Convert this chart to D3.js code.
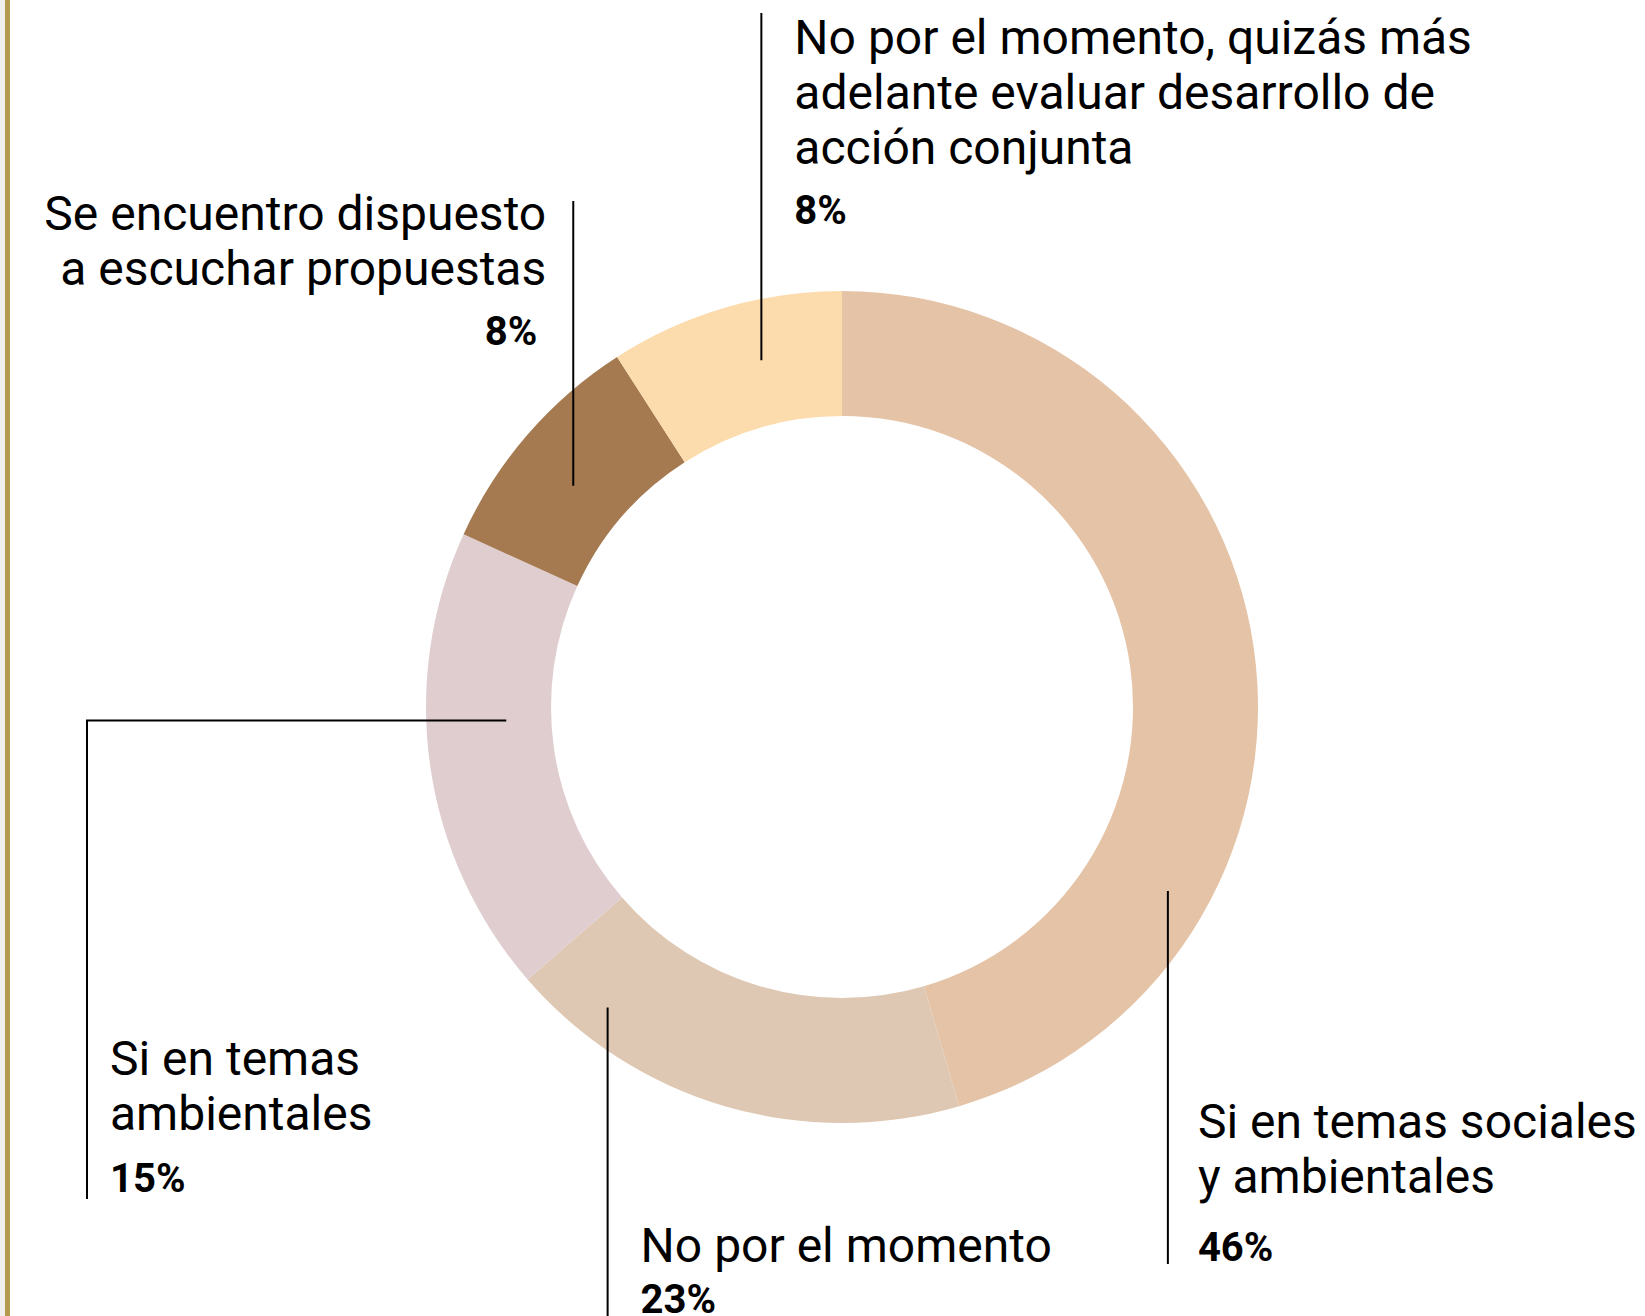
<!DOCTYPE html>
<html>
<head>
    <meta charset="utf-8">
    <title>Donut Chart</title>
    <style type="text/css">
    body { margin: 0; background: #fff; }
    text { font-family: Roboto, "Noto Sans", sans-serif; fill: #000; }
    </style>
</head>
<body>

    <script src="https://d3js.org/d3.v7.min.js"></script>
    <script>
      // data (clockwise from 12 o'clock)
      var categories = [
          "Si en temas sociales y ambientales",
          "No por el momento",
          "Si en temas ambientales",
          "Se encuentro dispuesto a escuchar propuestas",
          "No por el momento, quizás más adelante evaluar desarrollo de acción conjunta"
      ];
      var labelLines = [
          ["Si en temas sociales", "y ambientales"],
          ["No por el momento"],
          ["Si en temas", "ambientales"],
          ["Se encuentro dispuesto", "a escuchar propuestas"],
          ["No por el momento, quizás más", "adelante evaluar desarrollo de", "acción conjunta"]
      ];
      var sliceShares   = [45.5, 18.2, 18.2, 9.1, 9.1];
      var percentLabels = ["46%", "23%", "15%", "8%", "8%"];
      var palette = ["#E5C3A6", "#DFC8B3", "#E0CDCF", "#A57A51", "#FCDBAC"];

      var width = 1645, height = 1316;
      var cx = 842, cy = 707, outerR = 416, innerR = 291;

      // where each leader touches its slice (t = along the slice, f = across the ring)
      // and where the label text sits
      var layout = [
          {t: 0.730, f: 0.666, endY: 1264, textDx: 30,  anchor: "start", lines: [1138, 1193], pctY: 1261},
          {t: 0.83,  f: 0.72,  endY: 1320, textDx: 33,  anchor: "start", lines: [1262], pctY: 1313},
          {t: 0.59,  f: 0.36,  elbowX: 87, endY: 1199, textDx: 23, anchor: "start", lines: [1075, 1130], pctY: 1192},
          {t: 0.456, f: 0.457, endY: 201,  textDx: -27, pctDx: -36, anchor: "end", lines: [230, 285], pctY: 345},
          {t: 0.60,  f: 0.52,  endY: 13,   textDx: 33,  anchor: "start", lines: [54, 109, 164], pctY: 224}
      ];

      var svg = d3.select("body")
          .append("svg")
          .attr("width", width)
          .attr("height", height);

      // left border strip
      svg.append("rect").attr("x", 0).attr("y", 0).attr("width", 5).attr("height", height).attr("fill", "#F1F0EC");
      svg.append("rect").attr("x", 5).attr("y", 0).attr("width", 5).attr("height", height).attr("fill", "#B49A4F");

      var pie = d3.pie().sort(null).value(function(d){ return d; });
      var arcs = pie(sliceShares);

      var arc = d3.arc().innerRadius(innerR).outerRadius(outerR);

      var chart = svg.append("g")
          .attr("transform", "translate(" + cx + "," + cy + ")");

      chart.selectAll(".slice")
          .data(arcs)
          .enter()
          .append("path")
          .attr("class", "slice")
          .attr("d", arc)
          .attr("fill", function(d, i){ return palette[i]; });

      // leader lines + labels
      arcs.forEach(function(d, i){
          var L = layout[i];
          var a = d.startAngle + L.t * (d.endAngle - d.startAngle);
          var r = innerR + L.f * (outerR - innerR);
          var p = d3.pointRadial(a, r);
          var x0 = cx + p[0], y0 = cy + p[1];
          var pts;
          if (L.elbowX !== undefined) {
              pts = [[x0, y0], [L.elbowX, y0], [L.elbowX, L.endY]];
          } else {
              pts = [[x0, y0], [x0, L.endY]];
          }
          svg.append("path")
              .attr("d", d3.line()(pts))
              .attr("fill", "none")
              .attr("stroke", "#000")
              .attr("stroke-width", 2);

          var lineX = L.elbowX !== undefined ? L.elbowX : x0;
          var g = svg.append("g");
          labelLines[i].forEach(function(txt, k){
              g.append("text")
                  .attr("x", lineX + L.textDx)
                  .attr("y", L.lines[k])
                  .attr("text-anchor", L.anchor)
                  .attr("font-size", "48px")
                  .text(txt);
          });
          g.append("text")
              .attr("x", lineX + (L.pctDx !== undefined ? L.pctDx : L.textDx))
              .attr("y", L.pctY)
              .attr("text-anchor", L.anchor)
              .attr("font-size", "40px")
              .attr("font-weight", "700")
              .text(percentLabels[i]);
      });
    </script>
</body>
</html>
